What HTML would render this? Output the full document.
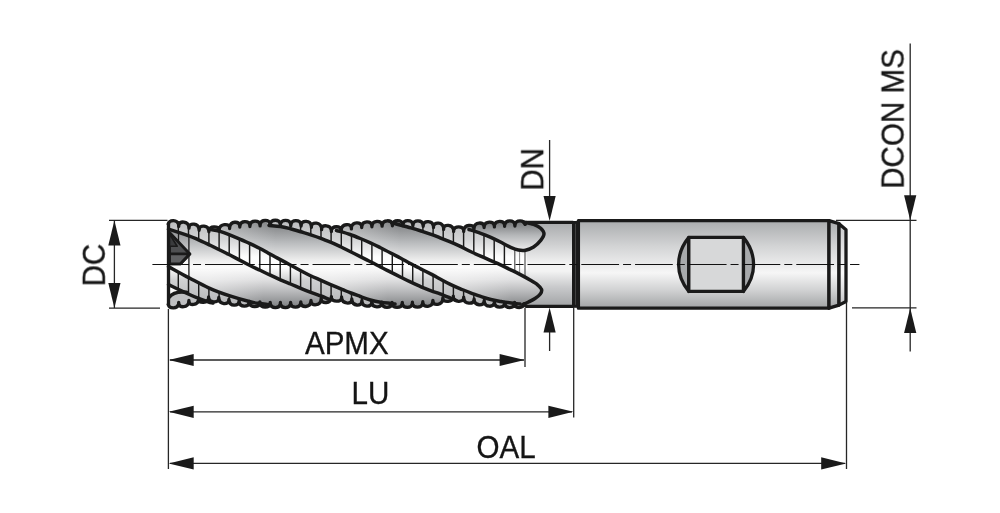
<!DOCTYPE html>
<html lang="en"><head><meta charset="utf-8"><title>End mill dimensions</title>
<style>html,body{margin:0;padding:0;background:#fff}svg{display:block}</style></head>
<body>
<svg width="1000" height="513" viewBox="0 0 1000 513">
<defs>
<linearGradient id="gs" x1="0" y1="220" x2="0" y2="308" gradientUnits="userSpaceOnUse"><stop offset="0" stop-color="#a9abad"/><stop offset=".3" stop-color="#d3d4d5"/><stop offset=".6" stop-color="#f6f6f6"/><stop offset=".8" stop-color="#d0d1d2"/><stop offset="1" stop-color="#a2a4a6"/></linearGradient>
<linearGradient id="gf" x1="0" y1="220" x2="0" y2="308" gradientUnits="userSpaceOnUse"><stop offset="0" stop-color="#787a7c"/><stop offset=".1" stop-color="#8f9193"/><stop offset=".26" stop-color="#babcbe"/><stop offset=".45" stop-color="#ececec"/><stop offset=".54" stop-color="#fbfbfb"/><stop offset=".68" stop-color="#e0e0e1"/><stop offset=".82" stop-color="#b6b7b9"/><stop offset="1" stop-color="#7c7e80"/></linearGradient>
<linearGradient id="gb" x1="0" y1="220" x2="0" y2="308" gradientUnits="userSpaceOnUse"><stop offset="0" stop-color="#b9babc"/><stop offset=".22" stop-color="#d3d4d5"/><stop offset=".42" stop-color="#fdfdfd"/><stop offset=".54" stop-color="#ffffff"/><stop offset=".68" stop-color="#d0d1d2"/><stop offset="1" stop-color="#b2b3b5"/></linearGradient>
<linearGradient id="ge" x1="0" y1="230" x2="0" y2="268" gradientUnits="userSpaceOnUse"><stop offset="0" stop-color="#8f9193"/><stop offset=".6" stop-color="#cfd0d1"/><stop offset=".85" stop-color="#f6f6f6"/><stop offset="1" stop-color="#f8f8f8"/></linearGradient>
<linearGradient id="g4" x1="0" y1="222" x2="0" y2="251" gradientUnits="userSpaceOnUse"><stop offset="0" stop-color="#77797b"/><stop offset=".45" stop-color="#b4b6b8"/><stop offset="1" stop-color="#f0f0f0"/></linearGradient>
<linearGradient id="gs2" x1="0" y1="220" x2="0" y2="308" gradientUnits="userSpaceOnUse"><stop offset="0" stop-color="#c4c5c7"/><stop offset=".35" stop-color="#e6e6e7"/><stop offset=".6" stop-color="#fafafa"/><stop offset=".8" stop-color="#e0e0e1"/><stop offset="1" stop-color="#bdbec0"/></linearGradient>
<linearGradient id="gn" x1="0" y1="220" x2="0" y2="308" gradientUnits="userSpaceOnUse"><stop offset="0" stop-color="#a4a6a8"/><stop offset=".28" stop-color="#cfd0d1"/><stop offset=".5" stop-color="#f3f3f3"/><stop offset=".58" stop-color="#f3f3f3"/><stop offset=".76" stop-color="#c9cacc"/><stop offset="1" stop-color="#9ea0a2"/></linearGradient>
</defs>
<rect width="1000" height="513" fill="#fff"/>
<g stroke="#1a1a1a" stroke-width="3.3" stroke-linejoin="round" stroke-linecap="round">
<rect x="508" y="222.3" width="65" height="84" fill="url(#gn)" stroke="none"/>
<path d="M578.4 220.6H829V308.2H578.4Z" fill="url(#gs)"/>
<path d="M829 220.6L839 223.7V305.1L829 308.2Z" fill="url(#gs)"/>
<path d="M839 223.7L846 229.7V301.5L839 305.1Z" fill="url(#gs2)"/>
<rect x="572" y="221" width="7.6" height="86.8" fill="#1a1a1a" stroke="none"/>
<rect x="575.1" y="223.8" width=".8" height="81" fill="#4c4c4c" stroke="none"/>
<path d="M688.8 237.4C675.2 254 675.2 275 688.8 291.4Z" fill="#a7a9ab"/>
<path d="M743.4 237.4C757 254 757 275 743.4 291.4Z" fill="#a7a9ab"/>
<rect x="688.8" y="237.4" width="54.6" height="54" fill="#d7d8d9"/>
</g>
<path d="M168.5 224L168.2 224C169.5 219.4 177.3 219.4 178.7 224.7C180 220.9 187.7 220.9 189 226.5C190.3 223 197.8 223 199.1 228.6C200.3 225.1 207.7 225.1 208.9 230.1C210.1 226 217.8 226 219.1 229.3C220.4 223.6 228.3 223.6 229.6 226.8C230.9 221 238.6 221 239.8 225.3C241.1 220.5 248.6 220.5 249.9 224.8C251.1 220.1 258.8 220.1 260.1 224.2C261.3 219.2 269 219.2 270.2 223.7C271.5 219.1 279.1 219.1 280.4 223.8C281.7 219.3 289.5 219.3 290.8 224C292.1 219.5 299.9 219.5 301.1 224.3C302.4 220.1 310.1 220.1 311.4 225.6C312.7 222 320.3 222 321.6 228C322.8 224.8 330.1 224.8 331.4 229.9C332.6 225.8 339.9 225.8 341.2 229.3C342.4 223.6 350.1 223.6 351.4 227.2C352.7 221.7 360.4 221.7 361.7 225.8C363 220.8 370.6 220.8 371.9 225.1C373.2 220.2 380.8 220.2 382.1 224.5C383.3 219.6 391 219.6 392.4 224.1C393.7 219.4 401.5 219.4 402.8 224C404 219.4 411.7 219.4 412.9 224.1C414.2 219.6 421.9 219.6 423.2 224.6C424.5 220.4 432.2 220.4 433.5 225.8C434.8 222 442.3 222 443.6 227.7C444.8 224.3 452.3 224.3 453.6 229.7C454.9 226 462.4 226 463.7 229.7C464.9 224.3 472.6 224.3 473.9 227.6C475.1 221.8 482.9 221.8 484.1 225.9C485.4 220.9 493.1 220.9 494.4 225.2C495.7 220.3 503.4 220.3 504.6 224.6C505.9 219.8 513.6 219.8 514.9 224.3C516.2 219.7 523.8 219.7 525.1 224.2L523.4 222C525.1 222.4 530.7 223.4 533.6 224.4C536.5 225.4 539 226.6 540.7 228.2C542.4 229.8 544 231.8 544 233.8C544 235.8 542.4 238.2 540.7 240.4C539 242.6 536.1 245.4 533.6 247C531.1 248.6 528 249.7 525.5 250.2C523 250.7 519.6 250 518.4 250L530.5 280.2L530.5 280.2C531.7 281 535.8 283.3 537.6 284.8C539.4 286.3 541 287.8 541.5 289.3C542 290.8 541.4 292.5 540.3 294C539.2 295.5 537 297.2 535 298.5C533 299.8 530.5 301 528.5 302C526.5 303 523.9 304.1 523 304.5L523.8 304.2L519.2 307.6L514.6 304.2L510 307.6L504.7 304L499.4 307.2L494.4 303.3L489.3 306.2L484.2 302.1L479.1 304.8L474.1 300.6L469 303.2L463.7 298.8L458.4 301.2L453.3 297.8L448.2 301.2L442.9 299.4L437.6 304.4L432.9 302L428.1 306.4L422.8 303.4L417.5 307.2L412.4 303.9L407.4 307.4L402.3 304L397.2 307.4L392 304L386.8 307.4L381.8 303.8L376.8 307L371.8 303.2L366.8 306.2L361.9 302.2L356.9 305.1L351.8 300.6L346.7 303L341.6 298.6L336.5 301L331.4 298.3L326.3 302.5L321.2 300.2L316.1 304.8L311 302.2L305.9 306.6L300.8 303.5L295.6 307.2L290.6 304L285.5 307.6L280.4 304.2L275.3 307.6L270.2 304L265.2 307.2L259.9 303.5L254.6 306.7L249.3 303L244.1 306.2L239.1 302.3L234 305.2L228.9 301L223.8 303.6L218.8 299.2L213.7 301.8L208.6 298.6L203.5 302.2L198.7 299.9L193.8 304.4L188.9 302.2L183.9 306.8L178.7 304L173.4 308L168.2 304.6L168.5 304.6 Z" fill="url(#gf)"/>
<linearGradient id="gw0" x1="220" y1="0" x2="276" y2="0" gradientUnits="userSpaceOnUse"><stop offset="0" stop-color="#fff" stop-opacity=".38"/><stop offset="1" stop-color="#fff" stop-opacity="0"/></linearGradient>
<path d="M212 214L208.5 229L220.8 231.6L230.9 235.4L241 239.7L250 243.6L260 248.5L268 253L278 258.4L278 214Z" fill="url(#gw0)"/>
<linearGradient id="gw1" x1="344" y1="0" x2="400" y2="0" gradientUnits="userSpaceOnUse"><stop offset="0" stop-color="#fff" stop-opacity=".38"/><stop offset="1" stop-color="#fff" stop-opacity="0"/></linearGradient>
<path d="M336 214L336.5 230.6L340 231.3L350.1 234.5L360.3 238.5L370.4 242.8L380.5 247.7L390.7 253L402 258.9L402 214Z" fill="url(#gw1)"/>
<linearGradient id="gv0" x1="209" y1="0" x2="264" y2="0" gradientUnits="userSpaceOnUse"><stop offset="0" stop-color="#fff" stop-opacity=".36"/><stop offset="1" stop-color="#fff" stop-opacity="0"/></linearGradient>
<path d="M189 270L189 277.8L189.4 278L208.6 287.8L229.9 295.9L250.2 301.8L260 303.6L264 304.2L264 270Z" fill="url(#gv0)"/>
<linearGradient id="gv1" x1="333" y1="0" x2="388" y2="0" gradientUnits="userSpaceOnUse"><stop offset="0" stop-color="#fff" stop-opacity=".36"/><stop offset="1" stop-color="#fff" stop-opacity="0"/></linearGradient>
<path d="M313 270L313 276.8L320 279.9L330 284.3L342 289.4L351 293L360.3 296.5L370.4 300L380.5 302.2L388 303.1L388 270Z" fill="url(#gv1)"/>
<linearGradient id="gv2" x1="457" y1="0" x2="512" y2="0" gradientUnits="userSpaceOnUse"><stop offset="0" stop-color="#fff" stop-opacity=".36"/><stop offset="1" stop-color="#fff" stop-opacity="0"/></linearGradient>
<path d="M437 270L437 277.3L440.1 279L450.3 284.3L460.4 288.8L470.5 292.9L480.7 296.4L490.8 299.5L500.9 301.5L511.1 303L512 303.1L512 270Z" fill="url(#gv2)"/>
<path d="M168.5 222C169.3 221.8 170.8 221 173.4 221.1C176 221.1 180.5 222 183.9 222.6C187.3 223.2 190.8 224 194.1 224.7C197.4 225.3 201.6 226 204 226.8C206.4 227.5 205.7 228.2 208.5 229C211.3 229.8 217.1 230.5 220.8 231.6C224.5 232.7 227.5 234.1 230.9 235.4C234.3 236.8 237.8 238.3 241 239.7C244.2 241.1 246.8 242.1 250 243.6C253.2 245.1 257 246.9 260 248.5C263 250.1 265 251.3 268 253C271 254.7 274.6 256.6 278 258.4C281.4 260.2 285 262.1 288.5 264C292 265.9 295.5 267.8 299 269.7C302.5 271.6 306 273.5 309.5 275.2C313 276.9 316.6 278.4 320 279.9C323.4 281.4 326.3 282.7 330 284.3C333.7 285.9 338.5 287.9 342 289.4C345.5 290.8 347.9 291.8 351 293C354.1 294.2 357.1 295.3 360.3 296.5C363.5 297.7 367 299.1 370.4 300C373.8 300.9 377.1 301.6 380.5 302.2C383.9 302.8 388.3 303.1 390.7 303.4C393.1 303.7 394.3 303.9 395 304L397.2 306.9C395.5 306.9 390.2 306.9 386.8 306.9C383.4 306.8 380.1 306.7 376.8 306.5C373.5 306.3 370.1 306 366.8 305.7C363.5 305.3 360.2 305.1 356.9 304.6C353.5 304 350.1 303.1 346.7 302.5C343.3 301.8 339.4 301 336.5 300.5C333.6 299.9 331.6 299.9 329 299.2C326.4 298.5 323.9 297.1 320.9 296C317.9 294.9 314.2 293.6 310.8 292.3C307.4 291 304.1 289.7 300.7 288.3C297.3 286.9 293.9 285.4 290.5 284C287.1 282.6 283.8 281.3 280.4 279.8C277 278.3 273.7 276.8 270.3 275.2C266.9 273.6 263.7 272 260.1 270.3C256.6 268.6 254.1 267.6 249 265C243.9 262.4 235.9 258.1 229.5 254.8C223.1 251.6 215.9 248 210.7 245.5C205.4 243 201.7 241.2 198 239.6C194.3 238 193.7 237.6 188.8 235.9C183.9 234.2 171.9 230.3 168.5 229.2Z" fill="url(#gb)"/>
<path d="M265.2 220.8C266.9 220.8 271.9 220.7 275.3 220.8C278.7 220.8 282 220.9 285.5 221C289 221 292.7 221 296.1 221.2C299.6 221.3 302.8 221.3 306.2 221.8C309.6 222.2 313.2 222.9 316.6 223.7C320 224.4 323.2 225.8 326.5 226.5C329.8 227.1 334.5 226.8 336.2 227.5C337.9 228.1 335.9 230 336.5 230.6C337.1 231.2 337.7 230.7 340 231.3C342.3 232 346.7 233.3 350.1 234.5C353.5 235.7 356.9 237.1 360.3 238.5C363.7 239.9 367 241.3 370.4 242.8C373.8 244.3 377.1 246 380.5 247.7C383.9 249.4 387.3 251.2 390.7 253C394.1 254.8 397.4 256.4 400.8 258.2C404.2 260 407.5 262 410.9 263.8C414.3 265.6 417.7 267.4 421.1 269.1C424.5 270.8 428 272.5 431.2 274.1C434.4 275.8 436.9 277.3 440.1 279C443.3 280.7 446.9 282.7 450.3 284.3C453.7 285.9 457 287.4 460.4 288.8C463.8 290.2 467.1 291.6 470.5 292.9C473.9 294.2 477.3 295.3 480.7 296.4C484.1 297.5 487.4 298.6 490.8 299.5C494.2 300.4 497.5 300.9 500.9 301.5C504.3 302.1 507.9 302.6 511.1 303C514.3 303.4 518.5 303.8 520 304L519.2 307.1C517.7 307.1 513.3 307.1 510 307.1C506.7 307 502.8 306.9 499.4 306.7C495.9 306.4 492.7 306.1 489.3 305.8C485.9 305.4 482.5 304.8 479.1 304.2C475.7 303.7 472.4 303.2 469 302.7C465.6 302.1 460.6 301 458.4 300.7C456.2 300.3 457.4 300.7 456 300.3C454.6 299.9 452.9 299.1 450.3 298C447.7 296.9 443.3 295 440.1 293.8C436.9 292.6 434.4 292 431.2 290.8C428 289.6 424.5 288.2 421.1 286.8C417.7 285.4 414.3 283.8 410.9 282.2C407.5 280.6 404.2 278.9 400.8 277.2C397.4 275.5 394.1 273.8 390.7 272.1C387.3 270.4 383.1 268.4 380.5 267C377.9 265.6 377.1 265.1 375 264C372.9 262.9 370.4 261.7 368 260.5C365.6 259.3 363.3 258.1 360.3 256.6C357.3 255.1 353.3 253.1 350.1 251.5C346.9 249.9 344.4 248.5 341.2 247C338 245.5 334.5 243.8 331.1 242.4C327.7 241 324.3 239.6 320.9 238.3C317.5 237 314.2 235.9 310.8 234.8C307.4 233.7 304.1 232.8 300.7 231.8C297.3 230.8 293.9 229.6 290.5 228.7C287.1 227.8 284 226.9 280.4 226.4C276.8 225.9 270.9 225.6 269 225.4Z" fill="url(#gb)"/>
<path d="M397.6 221.1C399.3 221.1 404.5 221 407.9 221.1C411.3 221.1 414.6 221.1 418 221.2C421.4 221.4 425 221.7 428.4 222.1C431.8 222.5 435.2 223 438.6 223.7C442 224.3 445.1 225.3 448.5 226C451.9 226.6 455.3 227.1 458.7 227.7C462.1 228.2 465.3 228.6 469 229.5C472.7 230.4 477.1 232 480.7 233.3C484.3 234.6 487.5 235.9 490.8 237.3C494.1 238.8 497.2 240.3 500.5 242C503.8 243.7 507.7 246 510.7 247.3C513.7 248.6 515.9 249.5 518.4 250C520.9 250.5 524.1 247.9 525.5 250.2C526.9 252.5 526.2 259 527 264C527.8 269 529.9 277.5 530.5 280.2L530.5 280.2C528.8 279.3 523.8 276.4 520.4 274.6C517 272.8 513.8 271.3 510.3 269.6C506.8 267.9 502.8 265.8 499.5 264.3C496.2 262.8 493.9 262 490.8 260.6C487.7 259.2 484.1 257.6 480.7 256.1C477.3 254.6 473.9 253.1 470.5 251.5C467.1 249.9 463.8 248 460.4 246.4C457 244.8 453.7 243.3 450.3 241.9C446.9 240.5 443.3 239.1 440.1 237.8C436.9 236.5 434.4 235.4 431.2 234.3C428 233.2 424.5 232.1 421.1 231C417.7 229.9 415.8 229.3 410.9 227.9C406 226.5 395.1 223.7 392 222.8Z" fill="url(#gb)"/>
<path d="M168.5 266.6C172 268.5 182.7 274.5 189.4 278C196.1 281.5 201.8 284.8 208.6 287.8C215.3 290.8 223 293.6 229.9 295.9C236.8 298.2 245.2 300.5 250.2 301.8C255.2 303.1 256.7 303.1 260 303.6C263.3 304.1 268.3 304.8 270 305L265.2 306.7C263.4 306.6 258.1 306.3 254.6 306.2C251.1 306 247.5 305.9 244.1 305.7C240.7 305.4 237.4 305.1 234 304.7C230.6 304.2 227.2 303.6 223.8 303.1C220.4 302.5 217.6 302.1 213.7 301.2C209.8 300.4 204.6 299.5 200.5 298.2C196.4 296.9 194.7 295.8 189.4 293.4C184.1 291 172 285.4 168.5 283.8Z" fill="url(#gb)"/>
<path d="M469 229.5C470.9 230.1 477.1 232 480.7 233.3C484.3 234.6 487.5 235.9 490.8 237.3C494.1 238.8 497.2 240.3 500.5 242C503.8 243.7 507.7 246 510.7 247.3C513.7 248.6 515.9 249.5 518.4 250C520.9 250.5 523 250.7 525.5 250.2C528 249.7 531.1 248.6 533.6 247C536.1 245.4 539 242.6 540.7 240.4C542.4 238.2 544 235.8 544 233.8C544 231.8 542.4 229.8 540.7 228.2C539 226.6 536.5 225.4 533.6 224.4C530.7 223.4 525.1 222.4 523.4 222L523 221L469 226Z" fill="url(#g4)"/>
<path d="M168.5 229.2L188.9 236.4V277L168.5 266Z" fill="url(#ge)"/>
<path d="M169 285L169 296.5L179 290Z" fill="#fafafa"/>
<path d="M168.5 297.4C172 293.5 178 291.2 186 292.2L205 300.5L204 303L168.5 308Z" fill="#bfc0c2"/>
<g stroke="#1a1a1a" stroke-width="1.45" fill="none">
<path d="M178.3 223.2V232.4"/>
<path d="M188.5 225V235.8"/>
<path d="M198.7 227.1V239.9"/>
<path d="M208.9 228.7V244.6"/>
<path d="M219.1 231.2V249.6"/>
<path d="M229.2 234.8V254.7"/>
<path d="M239.4 239V260"/>
<path d="M249.6 243.4V265.3"/>
<path d="M259.8 248.4V270.2"/>
<path d="M270 254.1V275.1"/>
<path d="M280.2 259.6V279.7"/>
<path d="M290.4 265V284"/>
<path d="M300.6 270.5V288.2"/>
<path d="M310.8 275.8V292.3"/>
<path d="M321 280.3V296"/>
<path d="M331.1 284.8V299.7"/>
<path d="M341.3 289.1V299.9"/>
<path d="M351.5 293.2V301.9"/>
<path d="M361.7 297V303.6"/>
<path d="M371.9 300.3V304.6"/>
<path d="M382.1 302.4V305.2"/>
<path d="M290.4 222.5V228.7"/>
<path d="M300.6 222.9V231.8"/>
<path d="M310.8 224.1V234.8"/>
<path d="M321 226.4V238.3"/>
<path d="M331.1 228.4V242.4"/>
<path d="M341.3 231.7V247.1"/>
<path d="M351.5 235.1V252.2"/>
<path d="M361.7 239.1V257.3"/>
<path d="M371.9 243.5V262.5"/>
<path d="M382.1 248.5V267.8"/>
<path d="M392.3 253.8V272.9"/>
<path d="M402.5 259.1V278"/>
<path d="M412.7 264.7V283"/>
<path d="M422.9 270V287.5"/>
<path d="M433.1 275.1V291.4"/>
<path d="M443.2 280.6V295.1"/>
<path d="M453.4 285.7V299.3"/>
<path d="M463.6 290.1V300.1"/>
<path d="M473.8 294V301.9"/>
<path d="M484 297.4V303.5"/>
<path d="M494.2 300.2V304.7"/>
<path d="M504.4 302V305.3"/>
<path d="M514.6 303.4V305.6"/>
<path d="M412.7 222.6V228.4"/>
<path d="M422.9 223.1V231.6"/>
<path d="M433.1 224.3V235"/>
<path d="M443.2 226.2V239.1"/>
<path d="M453.4 228.3V243.3"/>
<path d="M463.6 228.3V248"/>
<path d="M473.8 231.1V253"/>
<path d="M484 234.6V257.6"/>
<path d="M494.2 238.9V262"/>
<path d="M504.4 244V266.7"/>
<path d="M178.3 271.9V289.3"/>
<path d="M188.5 277.5V294.1"/>
<path d="M198.7 282.7V298.4"/>
<path d="M208.9 287.9V302.1"/>
<path d="M219.1 291.8V300.7"/>
<path d="M229.2 295.7V302.4"/>
<path d="M239.4 298.7V303.7"/>
<path d="M249.6 301.6V304.4"/>
</g>
<path d="M514.8 250V271M525 251V276.5" stroke="#444" stroke-width="1.1" fill="none"/>
<path d="M519.6 251V273" stroke="#888" stroke-width="1" fill="none"/>
<path d="M178.5 232.6V241.5" stroke="#1a1a1a" stroke-width="1.3" fill="none"/>
<path d="M188.9 236.4V277" stroke="#1a1a1a" stroke-width="1.3" fill="none"/>
<g stroke="#1a1a1a" stroke-width="3.5" fill="none" stroke-linecap="round" stroke-linejoin="round">
<path d="M168.5 229.2C171.9 230.3 183.9 234.2 188.8 235.9C193.7 237.6 194.3 238 198 239.6C201.7 241.2 205.4 243 210.7 245.5C215.9 248 223.1 251.6 229.5 254.8C235.9 258.1 243.9 262.4 249 265C254.1 267.6 256.6 268.6 260.1 270.3C263.7 272 266.9 273.6 270.3 275.2C273.7 276.8 277 278.3 280.4 279.8C283.8 281.3 287.1 282.6 290.5 284C293.9 285.4 297.3 286.9 300.7 288.3C304.1 289.7 307.4 291 310.8 292.3C314.2 293.6 317.9 294.9 320.9 296C323.9 297.1 327.6 298.7 329 299.2"/>
<path d="M208.5 229C210.6 229.4 217.1 230.5 220.8 231.6C224.5 232.7 227.5 234.1 230.9 235.4C234.3 236.8 237.8 238.3 241 239.7C244.2 241.1 246.8 242.1 250 243.6C253.2 245.1 257 246.9 260 248.5C263 250.1 265 251.3 268 253C271 254.7 274.6 256.6 278 258.4C281.4 260.2 285 262.1 288.5 264C292 265.9 295.5 267.8 299 269.7C302.5 271.6 306 273.5 309.5 275.2C313 276.9 316.6 278.4 320 279.9C323.4 281.4 326.3 282.7 330 284.3C333.7 285.9 338.5 287.9 342 289.4C345.5 290.8 347.9 291.8 351 293C354.1 294.2 357.1 295.3 360.3 296.5C363.5 297.7 367 299.1 370.4 300C373.8 300.9 377.1 301.6 380.5 302.2C383.9 302.8 388.3 303.1 390.7 303.4C393.1 303.7 394.3 303.9 395 304"/>
<path d="M269 225.4C270.9 225.6 276.8 225.9 280.4 226.4C284 226.9 287.1 227.8 290.5 228.7C293.9 229.6 297.3 230.8 300.7 231.8C304.1 232.8 307.4 233.7 310.8 234.8C314.2 235.9 317.5 237 320.9 238.3C324.3 239.6 327.7 241 331.1 242.4C334.5 243.8 338 245.5 341.2 247C344.4 248.5 346.9 249.9 350.1 251.5C353.3 253.1 357.3 255.1 360.3 256.6C363.3 258.1 365.6 259.3 368 260.5C370.4 261.7 372.9 262.9 375 264C377.1 265.1 377.9 265.6 380.5 267C383.1 268.4 387.3 270.4 390.7 272.1C394.1 273.8 397.4 275.5 400.8 277.2C404.2 278.9 407.5 280.6 410.9 282.2C414.3 283.8 417.7 285.4 421.1 286.8C424.5 288.2 428 289.6 431.2 290.8C434.4 292 436.9 292.6 440.1 293.8C443.3 295 447.7 296.9 450.3 298C452.9 299.1 455.1 299.9 456 300.3"/>
<path d="M336.5 230.6C337.1 230.7 337.7 230.7 340 231.3C342.3 232 346.7 233.3 350.1 234.5C353.5 235.7 356.9 237.1 360.3 238.5C363.7 239.9 367 241.3 370.4 242.8C373.8 244.3 377.1 246 380.5 247.7C383.9 249.4 387.3 251.2 390.7 253C394.1 254.8 397.4 256.4 400.8 258.2C404.2 260 407.5 262 410.9 263.8C414.3 265.6 417.7 267.4 421.1 269.1C424.5 270.8 428 272.5 431.2 274.1C434.4 275.8 436.9 277.3 440.1 279C443.3 280.7 446.9 282.7 450.3 284.3C453.7 285.9 457 287.4 460.4 288.8C463.8 290.2 467.1 291.6 470.5 292.9C473.9 294.2 477.3 295.3 480.7 296.4C484.1 297.5 487.4 298.6 490.8 299.5C494.2 300.4 497.5 300.9 500.9 301.5C504.3 302.1 507.9 302.6 511.1 303C514.3 303.4 518.5 303.8 520 304"/>
<path d="M168.5 266.6C172 268.5 182.7 274.5 189.4 278C196.1 281.5 201.8 284.8 208.6 287.8C215.3 290.8 223 293.6 229.9 295.9C236.8 298.2 245.2 300.5 250.2 301.8C255.2 303.1 256.7 303.1 260 303.6C263.3 304.1 268.3 304.8 270 305"/>
<path d="M168.5 284.6C171.4 286 180.7 290.6 186 293C191.3 295.4 196.7 297.7 200.5 299.2C204.3 300.7 206.5 301.4 208.6 302C210.7 302.6 212.3 302.8 213 303"/>
<path d="M392 222.8C395.1 223.7 406 226.5 410.9 227.9C415.8 229.3 417.7 229.9 421.1 231C424.5 232.1 428 233.2 431.2 234.3C434.4 235.4 436.9 236.5 440.1 237.8C443.3 239.1 446.9 240.5 450.3 241.9C453.7 243.3 457 244.8 460.4 246.4C463.8 248 467.1 249.9 470.5 251.5C473.9 253.1 477.3 254.6 480.7 256.1C484.1 257.6 487.7 259.2 490.8 260.6C493.9 262 496.2 262.8 499.5 264.3C502.8 265.8 506.8 267.9 510.3 269.6C513.8 271.3 517 272.8 520.4 274.6C523.8 276.4 527.6 278.5 530.5 280.2C533.4 281.9 535.8 283.3 537.6 284.8C539.4 286.3 541 287.8 541.5 289.3C542 290.8 541.4 292.5 540.3 294C539.2 295.5 537 297.2 535 298.5C533 299.8 530.5 301 528.5 302C526.5 303 523.9 304.1 523 304.5"/>
<path d="M469 229.5C470.9 230.1 477.1 232 480.7 233.3C484.3 234.6 487.5 235.9 490.8 237.3C494.1 238.8 497.2 240.3 500.5 242C503.8 243.7 507.7 246 510.7 247.3C513.7 248.6 515.9 249.5 518.4 250C520.9 250.5 523 250.7 525.5 250.2C528 249.7 531.1 248.6 533.6 247C536.1 245.4 539 242.6 540.7 240.4C542.4 238.2 544 235.8 544 233.8C544 231.8 542.4 229.8 540.7 228.2C539 226.6 536.5 225.4 533.6 224.4C530.7 223.4 525.1 222.4 523.4 222"/>
<path d="M168.8 297.6C172 293.6 178 291.2 186.5 292.3"/>
</g>
<g stroke="#1a1a1a" stroke-width="3.3" fill="none" stroke-linecap="round" stroke-linejoin="round">
<path d="M168.2 224C169.5 219.4 177.3 219.4 178.7 224.7C180 220.9 187.7 220.9 189 226.5C190.3 223 197.8 223 199.1 228.6C200.3 225.1 207.7 225.1 208.9 230.1C210.1 226 217.8 226 219.1 229.3C220.4 223.6 228.3 223.6 229.6 226.8C230.9 221 238.6 221 239.8 225.3C241.1 220.5 248.6 220.5 249.9 224.8C251.1 220.1 258.8 220.1 260.1 224.2C261.3 219.2 269 219.2 270.2 223.7C271.5 219.1 279.1 219.1 280.4 223.8C281.7 219.3 289.5 219.3 290.8 224C292.1 219.5 299.9 219.5 301.1 224.3C302.4 220.1 310.1 220.1 311.4 225.6C312.7 222 320.3 222 321.6 228C322.8 224.8 330.1 224.8 331.4 229.9C332.6 225.8 339.9 225.8 341.2 229.3C342.4 223.6 350.1 223.6 351.4 227.2C352.7 221.7 360.4 221.7 361.7 225.8C363 220.8 370.6 220.8 371.9 225.1C373.2 220.2 380.8 220.2 382.1 224.5C383.3 219.6 391 219.6 392.4 224.1C393.7 219.4 401.5 219.4 402.8 224C404 219.4 411.7 219.4 412.9 224.1C414.2 219.6 421.9 219.6 423.2 224.6C424.5 220.4 432.2 220.4 433.5 225.8C434.8 222 442.3 222 443.6 227.7C444.8 224.3 452.3 224.3 453.6 229.7C454.9 226 462.4 226 463.7 229.7C464.9 224.3 472.6 224.3 473.9 227.6C475.1 221.8 482.9 221.8 484.1 225.9C485.4 220.9 493.1 220.9 494.4 225.2C495.7 220.3 503.4 220.3 504.6 224.6C505.9 219.8 513.6 219.8 514.9 224.3C516.2 219.7 523.8 219.7 525.1 224.2"/>
<path d="M168.2 304.6C169.5 309.1 177.3 309.1 178.7 304C180 307.9 187.6 307.9 188.9 302.2C190.1 305.5 197.4 305.5 198.7 299.9C199.9 303.3 207.3 303.3 208.6 298.6C209.9 302.9 217.5 302.9 218.8 299.2C220 304.7 227.6 304.7 228.9 301C230.2 306.3 237.8 306.3 239.1 302.3C240.3 307.3 248 307.3 249.3 303C250.7 307.8 258.6 307.8 259.9 303.5C261.2 308.3 269 308.3 270.2 304C271.5 308.7 279.1 308.7 280.4 304.2C281.7 308.7 289.3 308.7 290.6 304C291.8 308.3 299.5 308.3 300.8 303.5C302 307.7 309.7 307.7 311 302.2C312.3 305.9 319.9 305.9 321.2 300.2C322.5 303.6 330.1 303.6 331.4 298.3C332.7 302.1 340.3 302.1 341.6 298.6C342.9 304.1 350.5 304.1 351.8 300.6C353.1 306.2 360.6 306.2 361.9 302.2C363.1 307.3 370.6 307.3 371.8 303.2C373.1 308.1 380.6 308.1 381.8 303.8C383.1 308.5 390.7 308.5 392 304C393.3 308.5 401 308.5 402.3 304C403.6 308.5 411.2 308.5 412.4 303.9C413.7 308.4 421.5 308.4 422.8 303.4C424.1 307.5 431.7 307.5 432.9 302C434 305.5 441.6 305.5 442.9 299.4C444.2 302.3 452 302.3 453.3 297.8C454.6 302.3 462.4 302.3 463.7 298.8C465 304.3 472.8 304.3 474.1 300.6C475.3 305.9 482.9 305.9 484.2 302.1C485.5 307.4 493.1 307.4 494.4 303.3C495.6 308.3 503.4 308.3 504.7 304C506 308.7 513.5 308.7 514.6 304.2C515.8 308.7 522.7 308.7 523.8 304.2"/>
<path d="M178.7 224.7v1.7M189 226.5v1.7M199.1 228.6v1.7M208.9 230.1v1.7M219.1 229.3v1.7M229.6 226.8v1.7M239.8 225.3v1.7M249.9 224.8v1.7M260.1 224.2v1.7M270.2 223.7v1.7M280.4 223.8v1.7M290.8 224v1.7M301.1 224.3v1.7M311.4 225.6v1.7M321.6 228v1.7M331.4 229.9v1.7M341.2 229.3v1.7M351.4 227.2v1.7M361.7 225.8v1.7M371.9 225.1v1.7M382.1 224.5v1.7M392.4 224.1v1.7M402.8 224v1.7M412.9 224.1v1.7M423.2 224.6v1.7M433.5 225.8v1.7M443.6 227.7v1.7M453.6 229.7v1.7M463.7 229.7v1.7M473.9 227.6v1.7M484.1 225.9v1.7M494.4 225.2v1.7M504.6 224.6v1.7M514.9 224.3v1.7M178.7 304v-1.7M188.9 302.2v-1.7M198.7 299.9v-1.7M208.6 298.6v-1.7M218.8 299.2v-1.7M228.9 301v-1.7M239.1 302.3v-1.7M249.3 303v-1.7M259.9 303.5v-1.7M270.2 304v-1.7M280.4 304.2v-1.7M290.6 304v-1.7M300.8 303.5v-1.7M311 302.2v-1.7M321.2 300.2v-1.7M331.4 298.3v-1.7M341.6 298.6v-1.7M351.8 300.6v-1.7M361.9 302.2v-1.7M371.8 303.2v-1.7M381.8 303.8v-1.7M392 304v-1.7M402.3 304v-1.7M412.4 303.9v-1.7M422.8 303.4v-1.7M432.9 302v-1.7M442.9 299.4v-1.7M453.3 297.8v-1.7M463.7 298.8v-1.7M474.1 300.6v-1.7M484.2 302.1v-1.7M494.4 303.3v-1.7M504.7 304v-1.7M514.6 304.2v-1.7"/>
<path d="M168.5 224V304.6"/>
<path d="M525.1 224.2L526 222.3H573M523.8 304.2L526 306.3H573"/>
</g>
<g stroke="#1a1a1a" stroke-width="2.9" stroke-linejoin="round">
<path d="M169.5 232.6L189.8 253.9L180.2 263.9H169.5Z" fill="#4f5052"/>
<path d="M169.5 253.9H189.8L180.2 263.9H169.5Z" fill="#606163"/>
<path d="M169.5 234L177.2 246.2H169.5Z" fill="#3a3b3d" stroke-width="1.6"/>
</g>
<path d="M152.4 264.4H859.4" stroke="#111" stroke-width="1.05" fill="none" stroke-dasharray="37.75 4 8 4" stroke-dashoffset="1.1"/>
<g stroke="#262626" stroke-width="1.3" fill="none">
<path d="M109 220.4H167.5M109 308.2H160M114.4 221V308"/>
<path d="M168.4 309V469M525 308V367M573.7 308V417.5M846.5 302V469"/>
<path d="M170 360H524M170 411.8H572M170 463.4H845"/>
<path d="M549.6 140V200M549.6 330V351"/>
<path d="M836 220.3H916.5M852 307.8H916.5M910.2 43.5V351.5"/>
</g>
<g fill="#1a1a1a">
<path d="M0 0L-25 -6.1V6.1Z" transform="translate(114.4 220.6) rotate(-90)"/>
<path d="M0 0L-25 -6.1V6.1Z" transform="translate(114.4 308) rotate(90)"/>
<path d="M0 0L-25 -6.1V6.1Z" transform="translate(168.7 360) rotate(180)"/>
<path d="M0 0L-25 -6.1V6.1Z" transform="translate(524.6 360) rotate(0)"/>
<path d="M0 0L-25 -6.1V6.1Z" transform="translate(168.7 411.8) rotate(180)"/>
<path d="M0 0L-25 -6.1V6.1Z" transform="translate(573.4 411.8) rotate(0)"/>
<path d="M0 0L-25 -6.1V6.1Z" transform="translate(168.7 463.4) rotate(180)"/>
<path d="M0 0L-25 -6.1V6.1Z" transform="translate(846.2 463.4) rotate(0)"/>
<path d="M0 0L-25 -6.1V6.1Z" transform="translate(549.6 221) rotate(90)"/>
<path d="M0 0L-25 -6.1V6.1Z" transform="translate(549.6 307.6) rotate(-90)"/>
<path d="M0 0L-25 -6.1V6.1Z" transform="translate(910.2 220.2) rotate(90)"/>
<path d="M0 0L-25 -6.1V6.1Z" transform="translate(910.2 308) rotate(-90)"/>
</g>
<g font-family="'Liberation Sans', Arial, sans-serif" font-size="29.6" fill="#151515" stroke="#151515" stroke-width=".3" opacity=".999">
<text transform="translate(304.9 354.2) scale(1 1.04)">APMX</text>
<text transform="translate(351.6 404) scale(1 1.04)">LU</text>
<text transform="translate(476.6 457.6) scale(1 1.04)">OAL</text>
<text transform="translate(104.9 286.4) rotate(-90) scale(1 1.04)">DC</text>
<text transform="translate(543.3 190.7) rotate(-90) scale(1 1.04)">DN</text>
<text transform="translate(903.7 188.8) rotate(-90) scale(1 1.04)">DCON MS</text>
</g>
</svg>
</body></html>
